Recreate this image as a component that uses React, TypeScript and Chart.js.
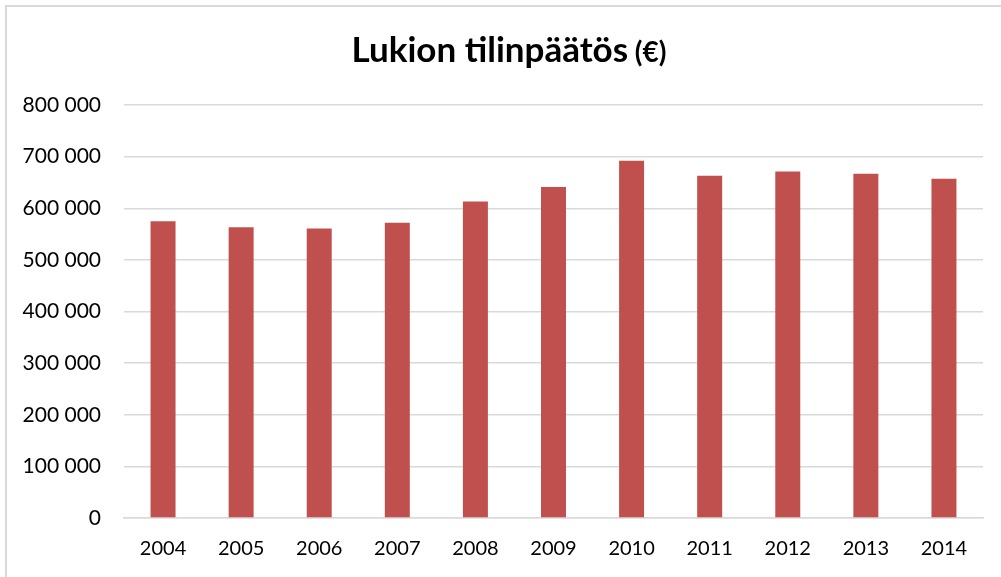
import React, { useEffect, useRef } from "react";
import { Chart, registerables } from "chart.js";

Chart.register(...registerables);

const categories = ["2004", "2005", "2006", "2007", "2008", "2009", "2010", "2011", "2012", "2013", "2014"];
const values = [575000, 563000, 561000, 572000, 613000, 641000, 692000, 663000, 671000, 667000, 657000];
const titleMain = "Lukion tilinpäätös";
const titleUnit = " (€)";

const FONT = "Lato, 'Open Sans', sans-serif";

const titlePlugin = {
  id: "mixedTitle",
  afterDraw(chart: any) {
    const ctx = chart.ctx;
    ctx.save();
    ctx.fillStyle = "#000000";
    ctx.textBaseline = "alphabetic";
    ctx.textAlign = "left";
    const mainFont = `bold 35px ${FONT}`;
    const unitFont = `bold 28px ${FONT}`;
    ctx.font = mainFont;
    const w1 = ctx.measureText(titleMain).width;
    ctx.font = unitFont;
    const w2 = ctx.measureText(titleUnit).width;
    const cx = 509;
    const x0 = cx - (w1 + w2) / 2;
    const baseline = 62;
    ctx.font = mainFont;
    ctx.fillText(titleMain, x0, baseline);
    ctx.font = unitFont;
    ctx.fillText(titleUnit, x0 + w1, baseline);
    ctx.restore();
  },
};

export default function App() {
  const ref = useRef<HTMLCanvasElement | null>(null);

  useEffect(() => {
    document.body.style.margin = "0";
    document.body.style.overflow = "hidden";
    const canvas = ref.current;
    if (!canvas) return;
    const chart = new Chart(canvas, {
      type: "bar",
      data: {
        labels: categories,
        datasets: [
          {
            data: values,
            backgroundColor: "#C0504D",
            borderWidth: 0,
            barPercentage: 0.32,
            categoryPercentage: 1,
          },
        ],
      },
      options: {
        animation: false,
        responsive: false,
        maintainAspectRatio: false,
        layout: { padding: { top: 105, right: 18, left: 0, bottom: 0 } },
        plugins: {
          legend: { display: false },
          title: { display: false },
          tooltip: { enabled: false },
        },
        scales: {
          x: {
            grid: { display: false, drawTicks: false },
            border: { display: true, color: "#d9d9d9", width: 1.5 },
            ticks: { color: "#000000", font: { family: FONT, size: 20 }, padding: 19 },
            afterFit(scale: any) {
              scale.height = 59;
            },
          },
          y: {
            min: 0,
            max: 800000,
            grid: { color: "#d9d9d9", lineWidth: 1.5, drawTicks: false },
            border: { display: false },
            ticks: {
              stepSize: 100000,
              padding: 23,
              color: "#000000",
              font: { family: FONT, size: 21 },
              callback: (v: any) => {
                const n = Number(v);
                return n === 0 ? "0" : String(n).replace(/\B(?=(\d{3})+(?!\d))/g, " ");
              },
            },
            afterFit(scale: any) {
              scale.width = 124;
            },
          },
        },
      },
      plugins: [titlePlugin],
    });
    return () => chart.destroy();
  }, []);

  return (
    <div style={{ position: "relative", width: 1001, height: 577 }}>
      <canvas ref={ref} width={1001} height={577} style={{ position: "absolute", left: 0, top: 0, width: 1001, height: 577 }} />
      <div
        style={{
          position: "absolute",
          left: 5,
          top: 5,
          width: 994,
          height: 570,
          borderTop: "2px solid #d9d9d9",
          borderLeft: "2px solid #d9d9d9",
          pointerEvents: "none",
        }}
      />
    </div>
  );
}
